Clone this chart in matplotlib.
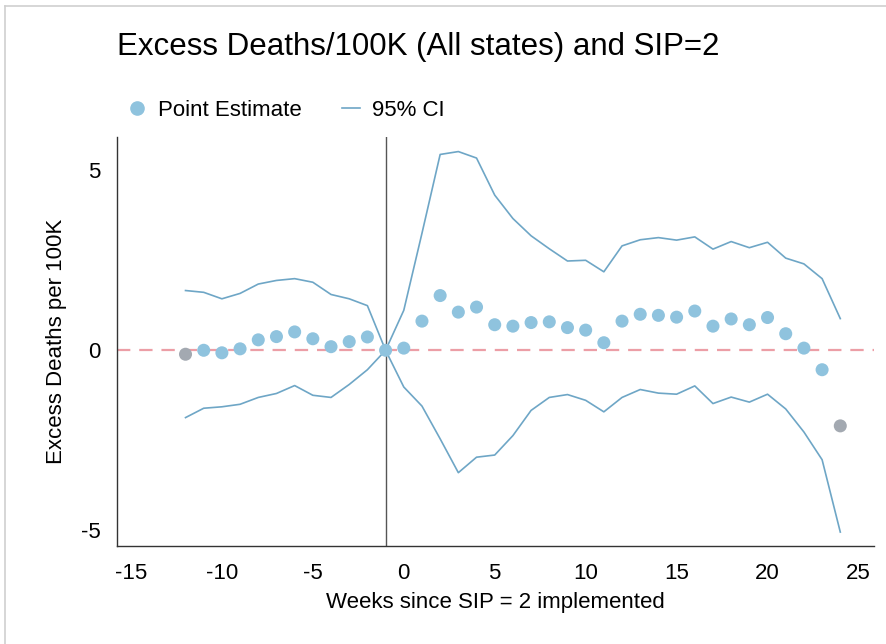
import numpy as np
import matplotlib
matplotlib.use("Agg")
import matplotlib.pyplot as plt
from matplotlib.lines import Line2D

plt.rcParams['font.family'] = ['Liberation Sans', 'DejaVu Sans']

# weeks relative to SIP = 2
weeks = list(range(-12, 25))

point_est = [-0.11, 0.0, -0.07, 0.04, 0.29, 0.38, 0.51, 0.32, 0.10, 0.24, 0.37, 0.0,
             0.06, 0.81, 1.52, 1.06, 1.20, 0.71, 0.67, 0.77, 0.79, 0.63, 0.56, 0.21,
             0.81, 1.00, 0.97, 0.92, 1.09, 0.67, 0.87, 0.71, 0.91, 0.46, 0.06, -0.54, -2.10]

ci_upper = [1.66, 1.61, 1.43, 1.58, 1.84, 1.94, 1.99, 1.89, 1.55, 1.43, 1.24, 0.0,
            1.11, 3.25, 5.44, 5.52, 5.34, 4.31, 3.66, 3.18, 2.82, 2.48, 2.50, 2.18,
            2.90, 3.07, 3.13, 3.06, 3.15, 2.81, 3.02, 2.85, 3.00, 2.56, 2.40, 1.99, 0.88]

ci_lower = [-1.87, -1.61, -1.57, -1.50, -1.31, -1.20, -0.98, -1.25, -1.31, -0.95, -0.54, 0.0,
            -1.02, -1.55, -2.46, -3.40, -2.97, -2.91, -2.37, -1.67, -1.31, -1.23, -1.39, -1.71,
            -1.31, -1.09, -1.19, -1.22, -0.99, -1.48, -1.30, -1.44, -1.22, -1.63, -2.27, -3.04, -5.05]

xticks = [-15, -10, -5, 0, 5, 10, 15, 20, 25]
yticks = [-5, 0, 5]

pt_color = '#8fc3de'
edge_color = '#a3a9b1'
ci_color = '#6ea6c6'

fig = plt.figure(figsize=(8.86, 6.44), dpi=100)
ax = fig.add_axes([0.132, 0.152, 0.855, 0.635])

# light frame of the screenshot
fig.add_artist(Line2D([0.0056, 0.0056], [0.0, 0.991], color='#cfcfcf', lw=1.2))
fig.add_artist(Line2D([0.0056, 1.0], [0.991, 0.991], color='#cfcfcf', lw=1.2))

ax.axhline(0, color='#ec9ea6', lw=1.6, ls=(0, (6, 4)), zorder=1)
ax.axvline(-1, color='#555555', lw=1.0, zorder=1)

ax.plot(weeks, ci_upper, color=ci_color, lw=1.2, zorder=2)
ax.plot(weeks, ci_lower, color=ci_color, lw=1.2, zorder=2)

colors = [pt_color] * len(weeks)
colors[0] = edge_color
colors[-1] = edge_color
ax.scatter(weeks, point_est, s=88, c=colors, edgecolors='none', zorder=3)

ax.set_xlim(-15.77, 25.88)
ax.set_ylim(-5.44, 5.92)
ax.set_xticks(xticks)
ax.set_yticks(yticks)
ax.set_xticklabels([str(t) for t in xticks])
ax.set_yticklabels([str(t) for t in yticks])
ax.tick_params(length=0, labelsize=16)
ax.tick_params(axis='x', pad=12)
ax.tick_params(axis='y', pad=12)
for s in ['top', 'right']:
    ax.spines[s].set_visible(False)
for s in ['left', 'bottom']:
    ax.spines[s].set_color('#333333')
    ax.spines[s].set_linewidth(1.0)

ax.set_xlabel('Weeks since SIP = 2 implemented', fontsize=16, labelpad=6)
ax.set_ylabel('Excess Deaths per 100K', fontsize=16, labelpad=10)

fig.text(0.132, 0.927, 'Excess Deaths/100K (All states) and SIP=2', fontsize=22.5,
         ha='left', va='center')

handles = [Line2D([], [], marker='o', ls='none', color=pt_color, markersize=9.5),
           Line2D([], [], color=ci_color, lw=1.2)]
fig.legend(handles, ['Point Estimate', '95% CI'], loc='center left',
           bbox_to_anchor=(0.122, 0.828), ncol=2, frameon=False, fontsize=16,
           handlelength=0.8, handletextpad=0.55, columnspacing=1.8)

fig.savefig('out.png', dpi=100)
